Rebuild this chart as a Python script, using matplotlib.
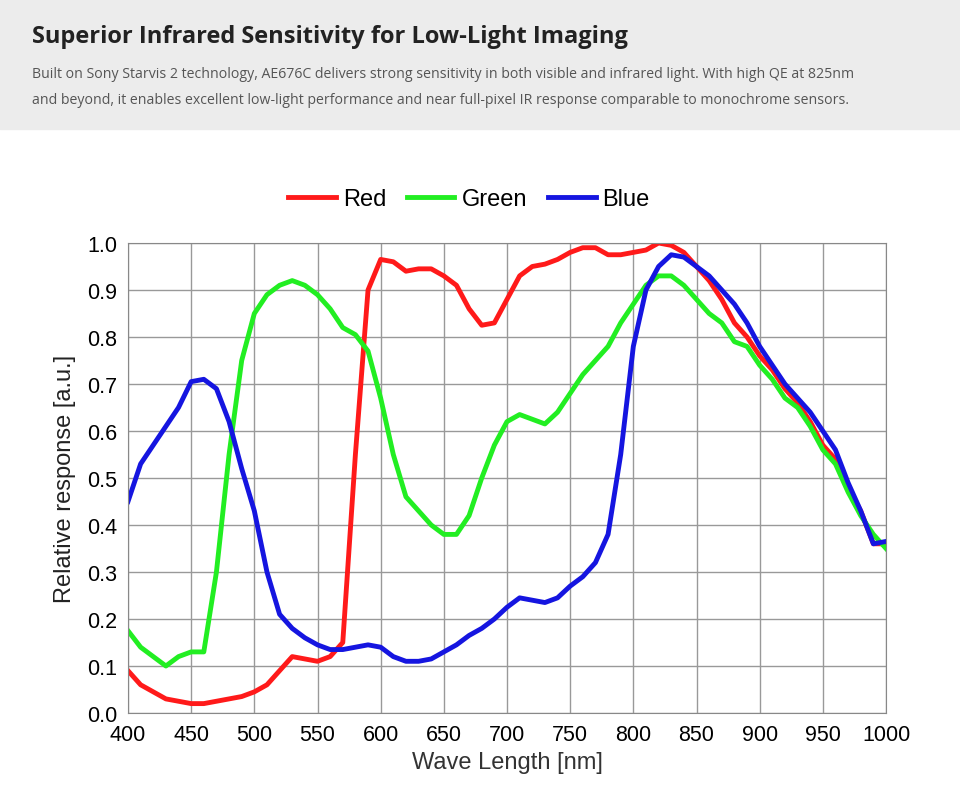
import matplotlib
matplotlib.use("Agg")
import matplotlib.pyplot as plt
from matplotlib.patches import Rectangle

wl = [400,410,420,430,440,450,460,470,480,490,500,510,520,530,540,550,560,570,580,590,600,610,620,630,640,650,660,670,680,690,700,710,720,730,740,750,760,770,780,790,800,810,820,830,840,850,860,870,880,890,900,910,920,930,940,950,960,970,980,990,1000]
red = [0.09,0.06,0.045,0.03,0.025,0.02,0.02,0.025,0.03,0.035,0.045,0.06,0.09,0.12,0.115,0.11,0.12,0.15,0.55,0.9,0.965,0.96,0.94,0.945,0.945,0.93,0.91,0.86,0.825,0.83,0.88,0.93,0.95,0.955,0.965,0.98,0.99,0.99,0.975,0.975,0.98,0.985,1.0,0.995,0.98,0.95,0.92,0.88,0.83,0.8,0.76,0.73,0.69,0.66,0.62,0.57,0.54,0.48,0.43,0.36,0.36]
green = [0.175,0.14,0.12,0.1,0.12,0.13,0.13,0.3,0.55,0.75,0.85,0.89,0.91,0.92,0.91,0.89,0.86,0.82,0.805,0.77,0.67,0.55,0.46,0.43,0.4,0.38,0.38,0.42,0.5,0.57,0.62,0.635,0.625,0.615,0.64,0.68,0.72,0.75,0.78,0.83,0.87,0.91,0.93,0.93,0.91,0.88,0.85,0.83,0.79,0.78,0.74,0.71,0.67,0.65,0.61,0.56,0.53,0.47,0.42,0.38,0.35]
blue = [0.45,0.53,0.57,0.61,0.65,0.705,0.71,0.69,0.62,0.52,0.43,0.3,0.21,0.18,0.16,0.145,0.135,0.135,0.14,0.145,0.14,0.12,0.11,0.11,0.115,0.13,0.145,0.165,0.18,0.2,0.225,0.245,0.24,0.235,0.245,0.27,0.29,0.32,0.38,0.55,0.78,0.9,0.95,0.975,0.97,0.95,0.93,0.9,0.87,0.83,0.78,0.74,0.7,0.67,0.64,0.6,0.56,0.49,0.43,0.36,0.365]

title = "Superior Infrared Sensitivity for Low-Light Imaging"
sub1 = "Built on Sony Starvis 2 technology, AE676C delivers strong sensitivity in both visible and infrared light. With high QE at 825nm"
sub2 = "and beyond, it enables excellent low-light performance and near full-pixel IR response comparable to monochrome sensors."

fig = plt.figure(figsize=(9.6, 8.12), dpi=100)
fig.patches.append(Rectangle((0, 1-130/812), 1, 130/812, transform=fig.transFigure, color="#ececec", zorder=0))
fig.text(32/960, 1-37/812, title, fontsize=17, fontweight="bold", family="Open Sans", color="#222222", va="center")
fig.text(32/960, 1-75/812, sub1, fontsize=10.2, family="Open Sans", color="#555555", va="center")
fig.text(32/960, 1-101/812, sub2, fontsize=10.2, family="Open Sans", color="#555555", va="center")

ax = fig.add_axes([128/960, 1-714/812, 758/960, 470/812])
ax.plot(wl, red, color="#ff1a1a", lw=3.5, label="Red")
ax.plot(wl, green, color="#22ee22", lw=3.5, label="Green")
ax.plot(wl, blue, color="#1515e0", lw=3.5, label="Blue")
ax.set_xlim(400, 1000)
ax.set_ylim(0, 1.0)
ax.set_xticks(range(400, 1001, 50))
ax.set_yticks([i/10 for i in range(11)])
ax.set_yticklabels([f"{i/10:.1f}" for i in range(11)])
ax.grid(True, color="#999999", lw=1)
for s in ax.spines.values():
    s.set_color("#888888")
ax.tick_params(length=0, labelsize=15.5, pad=8)
for t in ax.get_xticklabels() + ax.get_yticklabels():
    t.set_family("Liberation Sans")
ax.set_xlabel("Wave Length [nm]", fontsize=17, family="Liberation Sans", color="#333333", labelpad=4)
ax.set_ylabel("Relative response [a.u.]", fontsize=17, family="Liberation Sans", color="#222222", labelpad=8)
ax.legend(loc="lower center", bbox_to_anchor=(0.45, 1.05), ncol=3, frameon=False,
          prop={"family": "Liberation Sans", "size": 17}, handlelength=2.0, columnspacing=0.9, handletextpad=0.3,
          borderaxespad=0)
fig.savefig("out.png", dpi=100)
